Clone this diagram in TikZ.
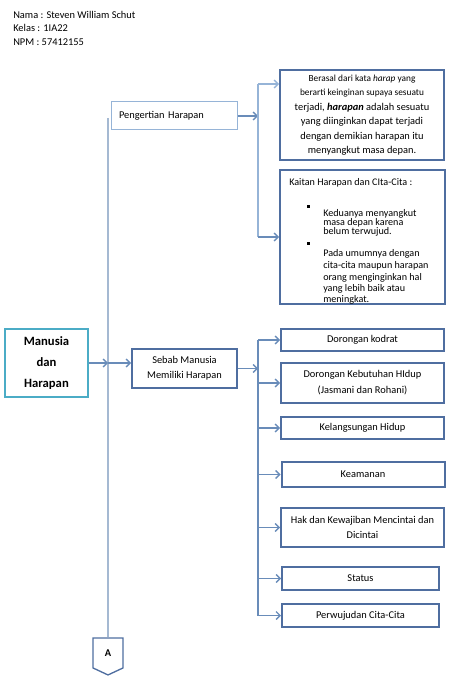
\documentclass[tikz,border=0pt]{standalone}
\usepackage{fontspec}
\setmainfont{Carlito}
\usetikzlibrary{arrows.meta, shapes.symbols}
\definecolor{BoxBlue}{RGB}{79, 110, 160}
\definecolor{LineBlue}{RGB}{105, 140, 185}
\definecolor{TrunkBlue}{RGB}{165, 185, 210}
\definecolor{PaleBlue}{RGB}{150, 180, 215}
\definecolor{TealBlue}{RGB}{75, 172, 198}
\newcommand{\tightlines}{\lineskiplimit=-20pt\relax}
\tikzset{
  box/.style={rectangle, draw=#1, line width=1.5pt, fill=white,
              minimum width=122.25pt, minimum height=16.5pt, inner sep=2pt,
              font=\fontsize{7.8}{11.25}\selectfont, text=black, align=center},
  arr/.style={-{Straight Barb[length=3pt, width=6pt]}, line width=1pt, color=#1},
  bus/.style={line width=1pt, color=#1},
}

\begin{document}
\begin{tikzpicture}[x=0.75pt, y=-0.75pt]
  \useasboundingbox (0,0) rectangle (452,680);

  % header
  \node[anchor=north west, align=left, inner sep=0pt,
        font=\fontsize{7.8}{10}\selectfont] (info) at (13,11)
        {Nama : Steven William Schut\\ Kelas : 1IA22\\ NPM : 57412155};

  \node[box=TealBlue, minimum width=62.25pt, minimum height=51pt,
        font=\bfseries\fontsize{9.5}{15.75}\selectfont] (man) at (46.5,363)
        {Manusia\\dan\\Harapan};

  % upper branch
  \node[box=PaleBlue, line width=0.75pt, minimum width=94.5pt, minimum height=21pt,
        text width=82.5pt, inner xsep=6pt, align=left] (peng) at (174,116)
        {Pengertian Harapan};
  \node[box=BoxBlue, minimum width=123pt, minimum height=67.5pt,
        font=\fontsize{7.8}{10.9}\selectfont] (def) at (362,115)
        {{\fontsize{7}{10.9}\selectfont Berasal dari kata \textit{harap} yang}\\
         {\fontsize{7}{10.9}\selectfont berarti keinginan supaya sesuatu}\\
         terjadi, \textbf{\textit{harapan}} adalah sesuatu\\
         yang diinginkan dapat terjadi\\
         dengan demikian harapan itu\\
         menyangkut masa depan.};
  \node[box=BoxBlue, minimum width=123.75pt, minimum height=100.5pt] (kait) at (362.5,237) {};
  \node[anchor=north west, align=left, inner sep=0pt,
        font=\fontsize{7.6}{6.75}\selectfont\tightlines] (kaittext)
        at ([xshift=7.5pt, yshift=-7pt]kait.north west)
        {Kaitan Harapan dan CIta-Cita :\\[9.75pt]
         \hspace*{13.5pt}\rule{2.2pt}{2.2pt}\\
         \hspace*{25.5pt}Keduanya menyangkut\\
         \hspace*{25.5pt}masa depan karena\\
         \hspace*{25.5pt}belum terwujud.\\[0.75pt]
         \hspace*{13.5pt}\rule{2.2pt}{2.2pt}\\[2.25pt]
         \hspace*{25.5pt}Pada umumnya dengan\\[2.25pt]
         \hspace*{25.5pt}cita-cita maupun harapan\\[2.25pt]
         \hspace*{25.5pt}orang menginginkan hal\\[1.5pt]
         \hspace*{25.5pt}yang lebih baik atau\\[1.5pt]
         \hspace*{25.5pt}meningkat.};

  % lower branch
  \node[box=BoxBlue, minimum width=78.75pt, minimum height=29.25pt] (sebab) at (184.5,368.5)
        {Sebab Manusia\\Memiliki Harapan};
  \node[box=BoxBlue] (kodrat) at (362.5,340) {Dorongan kodrat};
  \node[box=BoxBlue, minimum height=30pt, font=\fontsize{7.8}{12}\selectfont] (butuh) at (362.5,383)
        {Dorongan Kebutuhan HIdup\\(Jasmani dan Rohani)};
  \node[box=BoxBlue] (langsung) at (362.5,428) {Kelangsungan Hidup};
  \node[box=BoxBlue, minimum height=18.75pt] (aman) at (363,474.5) {Keamanan};
  \node[box=BoxBlue, minimum height=29.25pt] (hak) at (362.5,527.5)
        {Hak dan Kewajiban Mencintai dan\\Dicintai};
  \node[box=BoxBlue, minimum width=117.75pt, minimum height=17.25pt] (status) at (360.5,578.5) {Status};
  \node[box=BoxBlue, minimum width=117.75pt, minimum height=17.25pt] (wujud) at (360.5,615.5)
        {Perwujudan Cita-Cita};

  % off-page connector
  \node[signal, signal to=south, signal pointer angle=130, draw=BoxBlue, line width=1pt,
        fill=white, minimum width=22.5pt, minimum height=24pt, inner sep=1pt,
        font=\bfseries\fontsize{7.8}{9}\selectfont] (A) at (108,653) {A};

  % trunk
  \coordinate (trunktop) at (108,118);
  \draw[bus=TrunkBlue] (trunktop) -- (A.north);
  \draw[arr=LineBlue] (man.east) -- (man.east -| trunktop);
  \draw[arr=LineBlue] (man.east -| trunktop) -- (man.east -| sebab.west);

  % forks
  \coordinate (fork1) at (258,116);
  \coordinate (forka) at (258,84);
  \draw[arr=LineBlue] (peng.east) -- (peng.east -| fork1);
  \draw[bus=PaleBlue] (forka) -- (fork1 |- kait.west);
  \draw[arr=PaleBlue] (forka) -- (forka -| def.west);
  \draw[arr=LineBlue] (fork1 |- kait.west) -- (kait.west);

  \coordinate (fork2) at (258,368);
  \draw[arr=LineBlue] (sebab.east) -- (sebab.east -| fork2);
  \draw[bus=LineBlue] (fork2 |- kodrat.west) -- (fork2 |- wujud.west);
  \foreach \n in {kodrat, butuh, langsung, aman, hak, status, wujud}
    \draw[arr=LineBlue] (fork2 |- \n.west) -- (\n.west);
\end{tikzpicture}
\end{document}
